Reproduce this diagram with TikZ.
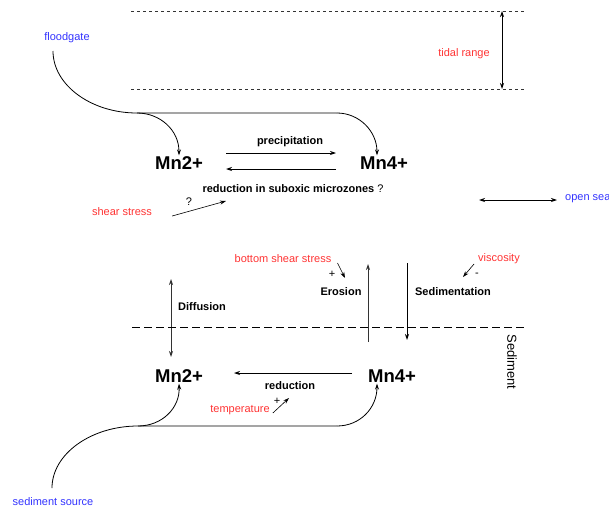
\documentclass[tikz,border=0pt]{standalone}
\usepackage{fontspec}
\setmainfont{Liberation Sans}
\usepackage{tikz}
\usetikzlibrary{arrows.meta,positioning,calc}
\definecolor{causered}{RGB}{255,51,51}
\definecolor{placeblue}{RGB}{51,51,255}
\tikzstyle{ionnode}=[font=\bfseries\fontsize{18.5}{20}\selectfont, inner sep=1pt]
\tikzstyle{procnode}=[font=\bfseries\fontsize{11}{13}\selectfont, inner sep=1pt]
\tikzstyle{causenode}=[text=causered, font=\fontsize{11}{13}\selectfont, inner sep=1pt]
\tikzstyle{placenode}=[text=placeblue, font=\fontsize{11}{13}\selectfont, inner sep=1pt]
\tikzstyle{signnode}=[font=\fontsize{11}{13}\selectfont, inner sep=0pt]
\tikzstyle{flowedge}=[-{Stealth[length=6pt,width=4pt]}, line width=0.8pt]
\tikzstyle{pathedge}=[line width=0.8pt]
\tikzstyle{leveledge}=[line width=0.6pt, dash pattern=on 3pt off 3pt, black!80]
\tikzstyle{bededge}=[line width=0.8pt, dash pattern=on 8pt off 4pt]

\begin{document}
\begin{tikzpicture}[x=1pt, y=-1pt]
    \useasboundingbox (0,0) rectangle (609,511);

    % water levels
    \coordinate (hwl) at (131,11);   \coordinate (hwr) at (526,11);
    \coordinate (lwl) at (131,89);   \coordinate (lwr) at (526,89);
    \draw[leveledge] (hwl) -- (hwr);
    \draw[leveledge] (lwl) -- (lwr);
    \coordinate (tidetop) at (502,11); \coordinate (tidebot) at (502,89);
    \draw[flowedge, {Stealth[length=6pt,width=4pt]}-{Stealth[length=6pt,width=4pt]}] (tidetop) -- (tidebot);
    \node[causenode] (tidal) at (464,54) {tidal range};

    % sources
    \node[placenode] (floodgate) at (67,38) {floodgate};
    \node[placenode] (sedsource) at (53,502) {sediment source};
    \node[placenode, anchor=west] (opensea) at (564,199) {open sea};
    \coordinate (seal) at (479,200); \coordinate (sear) at (557,200);
    \draw[flowedge, {Stealth[length=6pt,width=4pt]}-{Stealth[length=6pt,width=4pt]}] (seal) -- (sear);

    % manganese species
    \node[ionnode] (mnIIw) at (179,163) {Mn2+};
    \node[ionnode] (mnIVw) at (384,163) {Mn4+};
    \node[ionnode] (mnIIs) at (179,376) {Mn2+};
    \node[ionnode] (mnIVs) at (392,376) {Mn4+};

    % input from floodgate
    \coordinate (fgstart) at (53,51);
    \coordinate (fgjoin) at (137,113);
    \coordinate (fgend) at (337,113);
    \draw[pathedge] (fgstart) .. controls (53,85) and (91,113) .. (fgjoin) -- (fgend);
    \draw[flowedge] (fgjoin) .. controls (160,113) and (179,130) .. (mnIIw.north);
    \draw[flowedge] (fgend) .. controls (359,113) and (377,131) .. ($(mnIVw.north)+(-7,0)$);

    % water column reactions
    \coordinate (precl) at (226,153); \coordinate (precr) at (336,153);
    \coordinate (redl) at (226,169);  \coordinate (redr) at (336,169);
    \draw[flowedge] (precl) -- (precr);
    \draw[flowedge] (redr) -- (redl);
    \node[procnode] (precip) at (290,142) {precipitation};
    \node[procnode] (suboxic) at (293,189) {reduction in suboxic microzones \mdseries ?};

    \node[causenode] (shear) at (122,212) {shear stress};
    \coordinate (shearend) at (226,201);
    \draw[flowedge, line width=0.6pt] (shear.east) ++(19,4) -- (shearend);
    \node[signnode] (shearq) at (189,202) {?};

    % exchange with the bed
    \coordinate (diffup) at (171,279); \coordinate (diffdn) at (171,357);
    \draw[flowedge, {Stealth[length=6pt,width=4pt]}-{Stealth[length=6pt,width=4pt]}, black!80] (diffup) -- (diffdn);
    \node[procnode] (diffusion) at (202,307) {Diffusion};

    \coordinate (erolo) at (368,342); \coordinate (erohi) at (368,264);
    \draw[flowedge, black!80] (erolo) -- (erohi);
    \node[procnode] (erosion) at (341,292) {Erosion};

    \coordinate (sedhi) at (407,263); \coordinate (sedlo) at (407,340);
    \draw[flowedge] (sedhi) -- (sedlo);
    \node[procnode] (sedimentation) at (453,292) {Sedimentation};

    \node[causenode] (bss) at (283,259) {bottom shear stress};
    \coordinate (bssend) at (345,278);
    \draw[flowedge, line width=0.6pt] (bss.east) ++(5,4) -- (bssend);
    \node[signnode] (bssplus) at (332,274) {+};

    \node[causenode] (viscosity) at (499,259) {viscosity};
    \coordinate (viscend) at (463,277);
    \draw[flowedge, line width=0.6pt] (viscosity.west) ++(-3,5) -- (viscend);
    \node[signnode] (viscminus) at (477,275) {-};

    % sediment surface
    \coordinate (bedl) at (132,327); \coordinate (bedr) at (525,327);
    \draw[bededge] (bedl) -- (bedr);
    \node[font=\fontsize{13}{15}\selectfont, rotate=-90, inner sep=0pt] (sediment) at (512,362) {Sediment};

    % sediment reactions
    \coordinate (redsr) at (352,373); \coordinate (redsl) at (234,373);
    \draw[flowedge] (redsr) -- (redsl);
    \node[procnode] (reduction) at (290,386) {reduction};

    \node[causenode] (temperature) at (240,410) {temperature};
    \coordinate (tempend) at (289,398);
    \draw[flowedge, line width=0.6pt] (temperature.east) ++(2,3) -- (tempend);
    \node[signnode] (tempplus) at (277,401) {+};

    % input from sediment source
    \coordinate (ssstart) at (52,488);
    \coordinate (ssjoin) at (138,426);
    \coordinate (ssend) at (337,426);
    \draw[pathedge] (ssstart) .. controls (52,454) and (91,426) .. (ssjoin) -- (ssend);
    \draw[flowedge] (ssjoin) .. controls (162,426) and (180,408) .. (mnIIs.south);
    \draw[flowedge] (ssend) .. controls (360,426) and (377,408) .. ($(mnIVs.south)+(-15,0)$);
\end{tikzpicture}
\end{document}
